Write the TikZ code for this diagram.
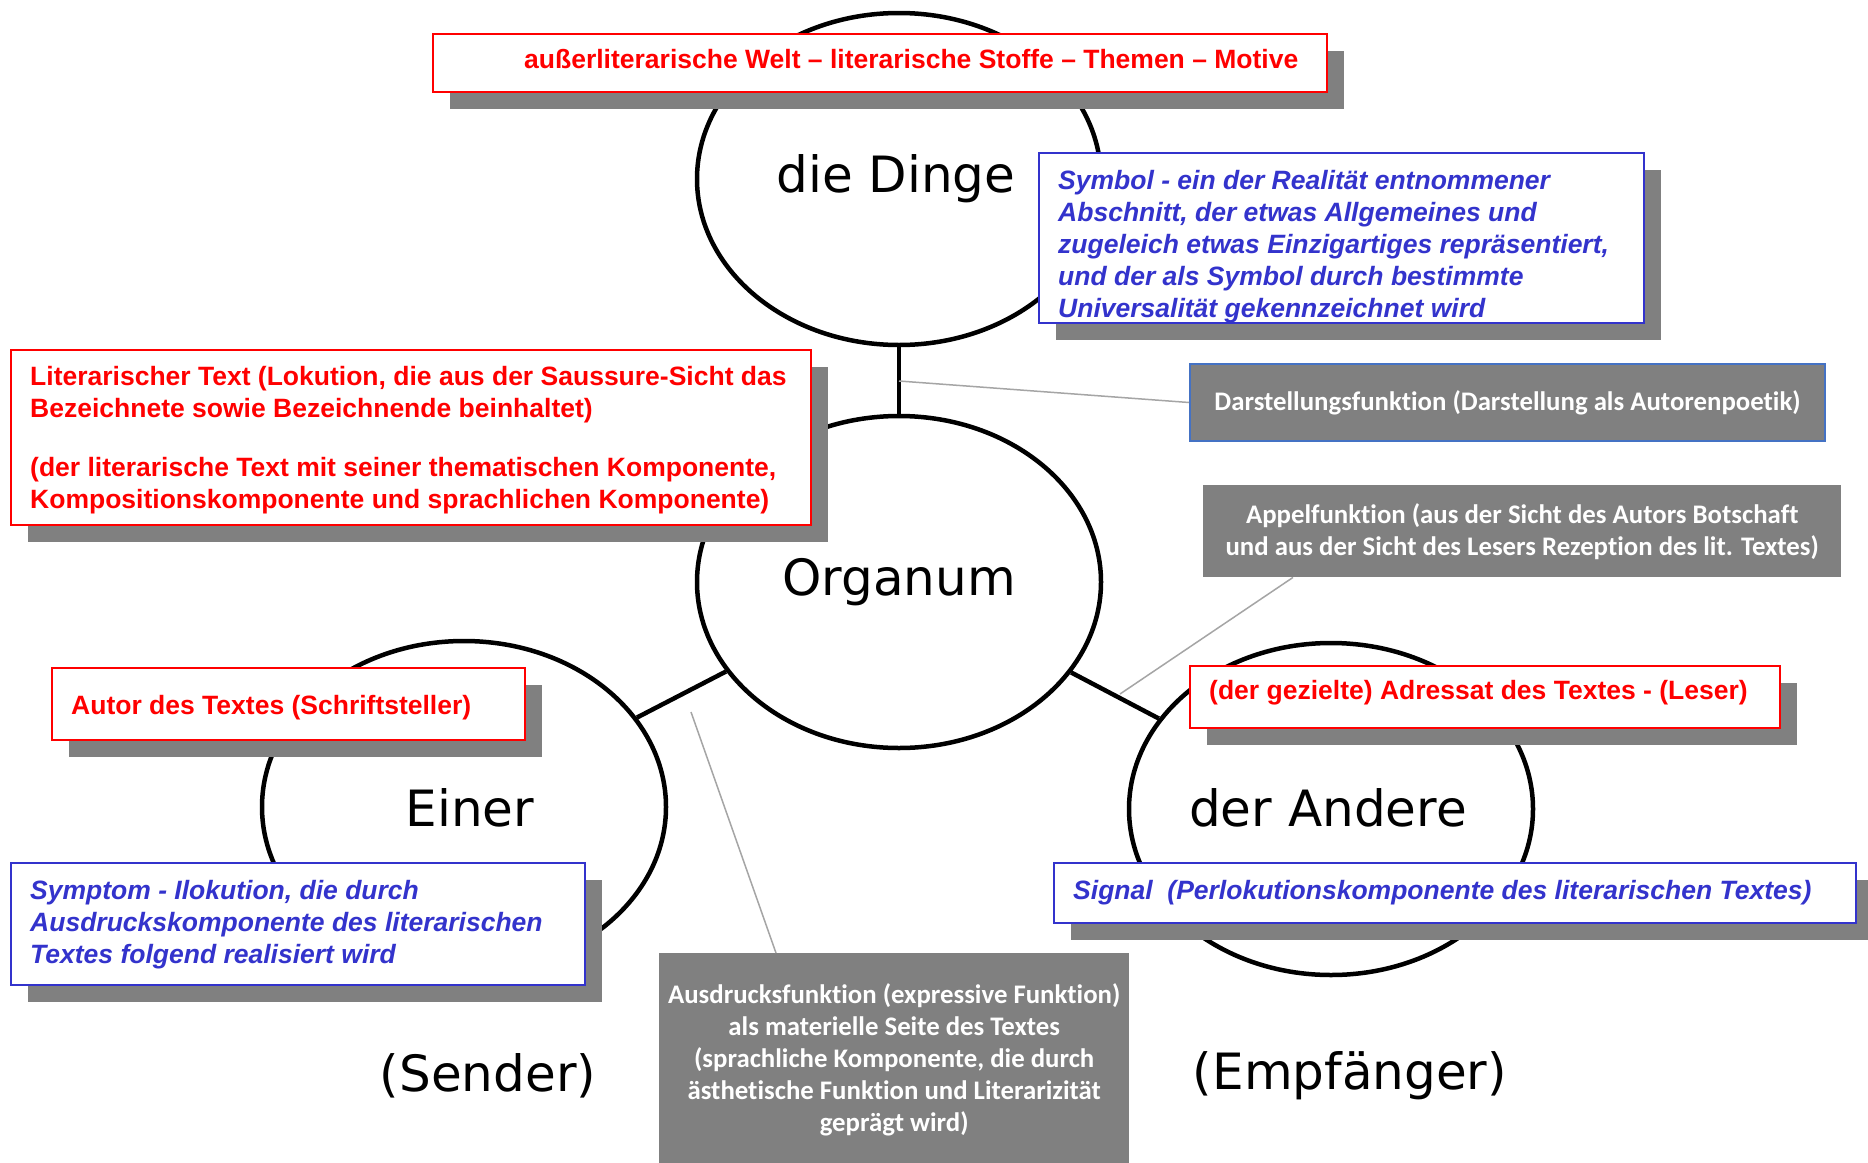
\documentclass[tikz,border=0pt]{standalone}
\usepackage{fontspec}
\setmainfont{Liberation Sans}
\newfontfamily\calib[Ligatures=NoCommon]{Carlito}
\newfontfamily\pixfont{DejaVu Sans}
\usetikzlibrary{shadows,shapes.geometric}
\definecolor{rd}{RGB}{255,0,0}
\definecolor{bl}{RGB}{51,51,204}
\definecolor{gr}{RGB}{128,128,128}
\definecolor{ln}{RGB}{165,165,165}
\definecolor{bd}{RGB}{68,114,196}
\begin{document}
\begin{tikzpicture}[x=1pt,y=-1pt,
  shad/.style={drop shadow={shadow xshift=17pt, shadow yshift=-17pt, opacity=1, fill=gr}},
  boxbase/.style={rectangle, anchor=north west, fill=white, line width=2pt, inner sep=0pt, shad},
  redbox/.style={boxbase, draw=rd},
  bluebox/.style={boxbase, draw=bl},
  graybox/.style={rectangle, anchor=north west, fill=gr, inner sep=0pt},
  redtxt/.style={anchor=west, align=left, inner sep=0pt, text=rd, font=\fontsize{26.5}{32}\selectfont\bfseries},
  bluetxt/.style={anchor=west, align=left, inner sep=0pt, text=bl, font=\fontsize{26.5}{32}\selectfont\bfseries\itshape},
  graytxt/.style={align=center, inner sep=0pt, text=white, font=\calib\fontsize{26.8}{32}\selectfont\bfseries},
  ring/.style={ellipse, draw=black, line width=4.5pt, minimum width=404pt, minimum height=332pt, inner sep=0pt},
  ringtxt/.style={inner sep=0pt, font=\pixfont\fontsize{50}{58}\selectfont},
  link/.style={draw=black, line width=4.5pt},
  pointer/.style={draw=ln, line width=1.5pt}
]
\useasboundingbox (0,0) rectangle (1868,1162);
\fill[white] (0,0) rectangle (1868,1162);

% circles
\node[ring] (ding) at (899,179) {};
\node[ring] (org) at (899,582) {};
\node[ring] (ein) at (464,807) {};
\node[ring] (and) at (1331,809) {};
\draw[link] (ding) -- (org);
\draw[link] (org) -- (ein);
\draw[link] (org) -- (and);

\node[ringtxt] (dingt) at (896,179) {die Dinge};
\node[ringtxt] (orgt) at (899,582) {Organum};
\node[ringtxt] (eint) at (470,808) {Einer};
\node[ringtxt] (andt) at (1328,808) {der Andere};
\node[ringtxt] (send) at (488,1076) {(Sender)};
\node[ringtxt] (empf) at (1350,1076) {(Empfänger)};

% points on the connectors
\coordinate (dv) at (899,381);
\coordinate (ap) at (1120,694);
\coordinate (ex) at (691,712);

% boxes
\node[redbox, minimum width=894pt, minimum height=58pt] (welt) at (432,33) {};
\node[redtxt, yshift=3.5pt] (weltt) at ([xshift=92pt]welt.west) {außerliterarische Welt – literarische Stoffe – Themen – Motive};

\node[bluebox, minimum width=605pt, minimum height=170pt] (sym) at (1038,152) {};
\node[bluetxt, yshift=-8.5pt] (symt) at ([xshift=20pt]sym.west) {Symbol - ein der Realität entnommener\\Abschnitt, der etwas Allgemeines und\\zugeleich etwas Einzigartiges repräsentiert,\\und der als Symbol durch bestimmte\\Universalität gekennzeichnet wird};

\node[redbox, minimum width=800pt, minimum height=175pt] (lit) at (10,349) {};
\node[redtxt, yshift=-2.5pt] (litt) at ([xshift=20pt]lit.west) {Literarischer Text (Lokution, die aus der Saussure-Sicht das\\Bezeichnete sowie Bezeichnende beinhaltet)\\[27pt](der literarische Text mit seiner thematischen Komponente,\\Kompositionskomponente und sprachlichen Komponente)};

\node[graybox, draw=bd, line width=2pt, minimum width=635pt, minimum height=77pt] (dar) at (1189,363) {};
\node[graytxt] (dart) at (dar.center) {Darstellungsfunktion (Darstellung als Autorenpoetik)};

\node[graybox, minimum width=638pt, minimum height=92pt] (app) at (1203,485) {};
\node[graytxt] (appt) at (app.center) {Appelfunktion (aus der Sicht des Autors Botschaft\\und aus der Sicht des Lesers Rezeption des lit. Textes)};

\node[redbox, minimum width=473pt, minimum height=72pt] (aut) at (51,667) {};
\node[redtxt, yshift=-4pt] (autt) at ([xshift=20pt]aut.west) {Autor des Textes (Schriftsteller)};

\node[redbox, minimum width=590pt, minimum height=62pt] (adr) at (1189,665) {};
\node[redtxt, yshift=4pt] (adrt) at ([xshift=20pt]adr.west) {(der gezielte) Adressat des Textes - (Leser)};

\node[bluebox, minimum width=574pt, minimum height=122pt] (sympt) at (10,862) {};
\node[bluetxt, yshift=-1pt] (symptt) at ([xshift=20pt]sympt.west) {Symptom - Ilokution, die durch\\Ausdruckskomponente des literarischen\\Textes folgend realisiert wird};

\node[bluebox, minimum width=802pt, minimum height=60pt] (sig) at (1053,862) {};
\node[bluetxt] (sigt) at ([xshift=20pt]sig.west) {Signal\ \ (Perlokutionskomponente des literarischen Textes)};

\node[graybox, minimum width=470pt, minimum height=214pt] (aus) at (659,953) {};
\node[graytxt] (aust) at (aus.center) {Ausdrucksfunktion (expressive Funktion)\\als materielle Seite des Textes\\(sprachliche Komponente, die durch\\ästhetische Funktion und Literarizität\\geprägt wird)};

% pointer lines
\draw[pointer] (dar.west) -- (dv);
\draw[pointer] ([xshift=90pt]app.south west) -- (ap);
\draw[pointer] ([xshift=117pt]aus.north west) -- (ex);
\end{tikzpicture}
\end{document}
